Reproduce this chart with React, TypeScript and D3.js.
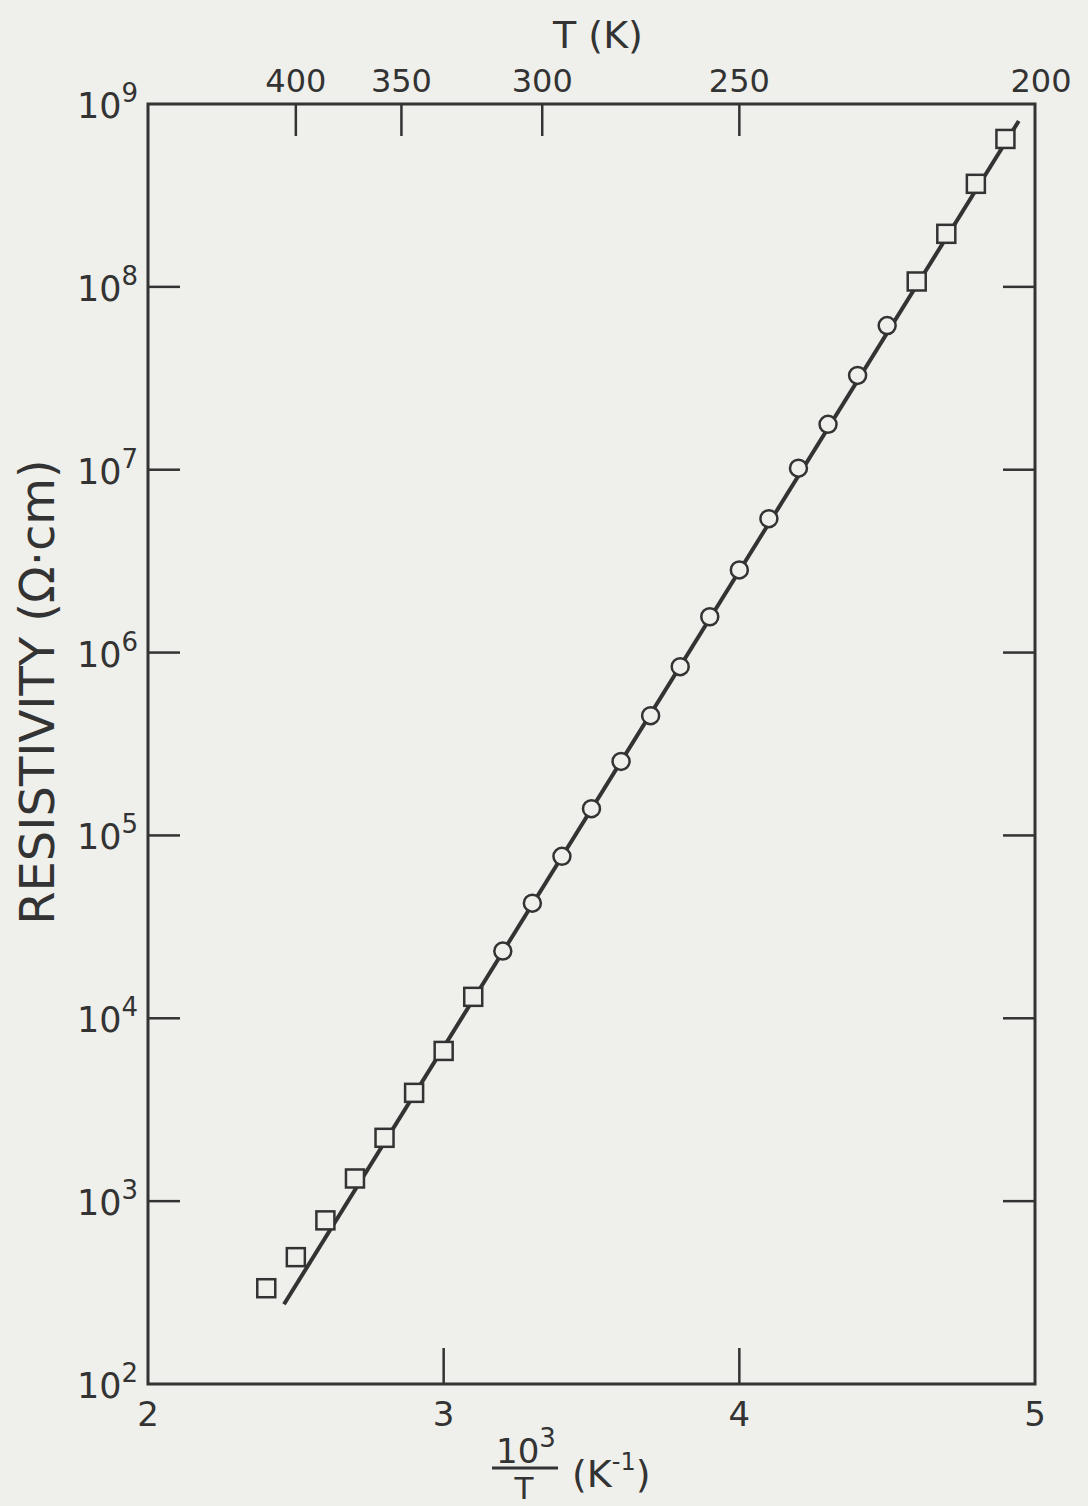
import { useEffect, useRef } from 'react'
import * as d3 from 'd3'

// 10^3/T (K^-1) and resistivity (ohm cm)
const squareX = [2.4, 2.5, 2.6, 2.7, 2.8, 2.9, 3.0, 3.1, 4.6, 4.7, 4.8, 4.9]
const squareY = [334, 494, 785, 1330, 2220, 3910, 6630, 13100, 1.07e8, 1.95e8, 3.66e8, 6.44e8]
const circleX = [3.2, 3.3, 3.4, 3.5, 3.6, 3.7, 3.8, 3.9, 4.0, 4.1, 4.2, 4.3, 4.4, 4.5]
const circleY = [23300, 42600, 76900, 1.4e5, 2.54e5, 4.52e5, 8.37e5, 1.57e6, 2.83e6, 5.4e6, 1.02e7, 1.77e7, 3.28e7, 6.14e7]
const fitX = [2.46, 4.945]
const fitY = [273, 8.07e8]

const bottomTicks = [2, 3, 4, 5]
const yExponents = [2, 3, 4, 5, 6, 7, 8, 9]
const tempTicks = [400, 350, 300, 250, 200]

const ink = '#333'
const bg = '#efefeb'
const font = "'DejaVu Sans', sans-serif"

export default function App() {
  const svgRef = useRef<SVGSVGElement>(null)

  useEffect(() => {
    document.body.style.margin = '0'
    if (!svgRef.current) return
    const svg = d3.select(svgRef.current)
    svg.selectAll('*').remove()

    const width = 1088
    const height = 1506
    svg.attr('width', width).attr('height', height)

    svg.append('rect').attr('width', width).attr('height', height).attr('fill', bg)

    const x = d3.scaleLinear().domain([2, 5]).range([148, 1035])
    const y = d3.scaleLog().domain([1e2, 1e9]).range([1384, 104])

    const [x0, x1] = x.range()
    const [y0, y1] = y.range()

    // frame
    svg.append('rect')
      .attr('x', x0).attr('y', y1)
      .attr('width', x1 - x0).attr('height', y0 - y1)
      .attr('fill', 'none').attr('stroke', ink).attr('stroke-width', 3)

    const tickLen = 32

    // y ticks on both sides
    yExponents.slice(1, -1).forEach(e => {
      const yy = y(Math.pow(10, e))
      svg.append('line').attr('x1', x0).attr('x2', x0 + tickLen).attr('y1', yy).attr('y2', yy)
        .attr('stroke', ink).attr('stroke-width', 2.5)
      svg.append('line').attr('x1', x1).attr('x2', x1 - tickLen).attr('y1', yy).attr('y2', yy)
        .attr('stroke', ink).attr('stroke-width', 2.5)
    })

    yExponents.forEach(e => {
      const yy = y(Math.pow(10, e))
      const t = svg.append('text')
        .attr('x', x0 - 10).attr('y', yy + 14)
        .attr('text-anchor', 'end')
        .style('font-family', font).style('font-size', '35px').style('fill', ink)
      t.append('tspan').text('10')
      t.append('tspan').attr('dy', -16).style('font-size', '26px').text(String(e))
    })

    // bottom ticks
    bottomTicks.forEach(v => {
      if (v > 2 && v < 5) {
        svg.append('line').attr('x1', x(v)).attr('x2', x(v)).attr('y1', y0).attr('y2', y0 - 36)
          .attr('stroke', ink).attr('stroke-width', 2.5)
      }
      svg.append('text')
        .attr('x', x(v)).attr('y', y0 + 42)
        .attr('text-anchor', 'middle')
        .style('font-family', font).style('font-size', '34px').style('fill', ink)
        .text(String(v))
    })

    // top temperature ticks
    tempTicks.forEach(T => {
      const xx = x(1000 / T)
      if (T !== 200) {
        svg.append('line').attr('x1', xx).attr('x2', xx).attr('y1', y1).attr('y2', y1 + tickLen)
          .attr('stroke', ink).attr('stroke-width', 2.5)
      }
      svg.append('text')
        .attr('x', T === 200 ? xx + 6 : xx).attr('y', y1 - 12)
        .attr('text-anchor', 'middle')
        .style('font-family', font).style('font-size', '32px').style('fill', ink)
        .text(String(T))
    })

    svg.append('text')
      .attr('x', 598).attr('y', 48)
      .attr('text-anchor', 'middle')
      .style('font-family', font).style('font-size', '38px').style('fill', ink)
      .text('T (K)')

    // x axis label as fraction
    const lab = svg.append('g').style('font-family', font).style('fill', ink)
    lab.append('text').attr('x', 526).attr('y', 1463).attr('text-anchor', 'middle')
      .style('font-size', '34px')
      .call(t => {
        t.append('tspan').text('10')
        t.append('tspan').attr('dy', -16).style('font-size', '26px').text('3')
      })
    lab.append('line').attr('x1', 492).attr('x2', 558).attr('y1', 1468).attr('y2', 1468)
      .attr('stroke', ink).attr('stroke-width', 3)
    lab.append('text').attr('x', 524).attr('y', 1499).attr('text-anchor', 'middle')
      .style('font-size', '31px').text('T')
    lab.append('text').attr('x', 572).attr('y', 1487)
      .style('font-size', '38px')
      .call(t => {
        t.append('tspan').text('(K')
        t.append('tspan').attr('dy', -17).style('font-size', '24px').text('-1')
        t.append('tspan').attr('dy', 17).text(')')
      })

    // y axis label
    svg.append('text')
      .attr('transform', `translate(54, 692) rotate(-90)`)
      .attr('text-anchor', 'middle')
      .style('font-family', font).style('font-size', '48px').style('fill', ink)
      .text('RESISTIVITY  (Ω·cm)')

    // fitted line
    const fit = fitX.map((v, i) => [v, fitY[i]] as [number, number])
    svg.append('path')
      .attr('d', d3.line<[number, number]>().x(d => x(d[0])).y(d => y(d[1]))(fit))
      .attr('fill', 'none').attr('stroke', ink).attr('stroke-width', 4)

    const s = 18
    svg.append('g').selectAll('rect')
      .data(squareX.map((v, i) => [v, squareY[i]]))
      .enter().append('rect')
      .attr('x', d => x(d[0]) - s / 2).attr('y', d => y(d[1]) - s / 2)
      .attr('width', s).attr('height', s)
      .attr('fill', bg).attr('stroke', ink).attr('stroke-width', 2.5)

    svg.append('g').selectAll('circle')
      .data(circleX.map((v, i) => [v, circleY[i]]))
      .enter().append('circle')
      .attr('cx', d => x(d[0])).attr('cy', d => y(d[1]))
      .attr('r', 8.5)
      .attr('fill', bg).attr('stroke', ink).attr('stroke-width', 2.5)
  }, [])

  return <svg ref={svgRef} style={{ display: 'block' }}></svg>
}
